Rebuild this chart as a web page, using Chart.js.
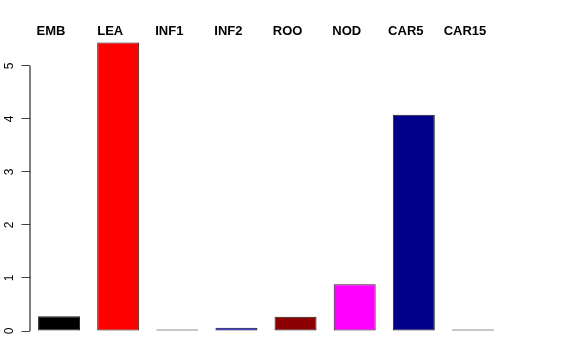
<!DOCTYPE html>
<html>
<head>
<meta charset="utf-8">
<script src="https://cdn.jsdelivr.net/npm/chart.js@4.4.1/dist/chart.umd.min.js"></script>
<style>
html,body{margin:0;padding:0;background:#fff;}
canvas{display:block;}
</style>
</head>
<body>
<canvas id="c" width="576" height="360"></canvas>
<script>
const categories = ["EMB", "LEA", "INF1", "INF2", "ROO", "NOD", "CAR5", "CAR15"];
const values = [0.28, 5.44, 0.03, 0.06, 0.27, 0.88, 4.08, 0.03];
const barColors = ["#000000", "#FF0000", "#00CD00", "#0000FF", "#8B0000", "#FF00FF", "#00008B", "#BEBEBE"];
const yTicks = [0, 1, 2, 3, 4, 5];
const yMax = 5.45;

const axisLine = {
  id: 'axisLine',
  afterDraw(chart) {
    const y = chart.scales.y;
    const ctx = chart.ctx;
    ctx.save();
    ctx.strokeStyle = '#000';
    ctx.lineWidth = 1;
    ctx.beginPath();
    const x = Math.round(y.right);
    ctx.moveTo(x, y.getPixelForValue(yTicks[0]));
    ctx.lineTo(x, y.getPixelForValue(yTicks[yTicks.length - 1]));
    ctx.stroke();
    ctx.restore();
  }
};

new Chart(document.getElementById('c'), {
  type: 'bar',
  data: {
    labels: categories,
    datasets: [{
      data: values,
      backgroundColor: barColors,
      borderColor: '#222',
      borderWidth: 1,
      borderSkipped: false,
      categoryPercentage: 1,
      barPercentage: 0.71
    }]
  },
  options: {
    responsive: false,
    animation: false,
    devicePixelRatio: 1,
    layout: { padding: { left: 0, right: 73.5, top: 0, bottom: 29 } },
    plugins: { legend: { display: false }, tooltip: { enabled: false } },
    scales: {
      x: {
        position: 'top',
        grid: { display: false, drawTicks: false },
        border: { display: false },
        ticks: {
          color: '#000',
          font: { family: 'Liberation Sans', size: 13, weight: 'bold' },
          padding: 3,
          labelOffset: -8,
          maxRotation: 0,
          autoSkip: false
        },
        afterFit(s) { s.height = 42; }
      },
      y: {
        min: 0,
        max: yMax,
        afterBuildTicks(s) { s.ticks = yTicks.map(v => ({ value: v })); },
        grid: { display: true, drawOnChartArea: false, drawTicks: true, tickLength: 8, tickColor: '#444', tickWidth: 1 },
        border: { display: false },
        ticks: {
          color: '#000',
          font: { family: 'Liberation Sans', size: 12 },
          minRotation: 90,
          maxRotation: 90,
          crossAlign: 'center',
          padding: 8,
          callback: (v) => String(v)
        },
        afterFit(s) { s.width = 29.5; }
      }
    }
  },
  plugins: [axisLine]
});
</script>
</body>
</html>
